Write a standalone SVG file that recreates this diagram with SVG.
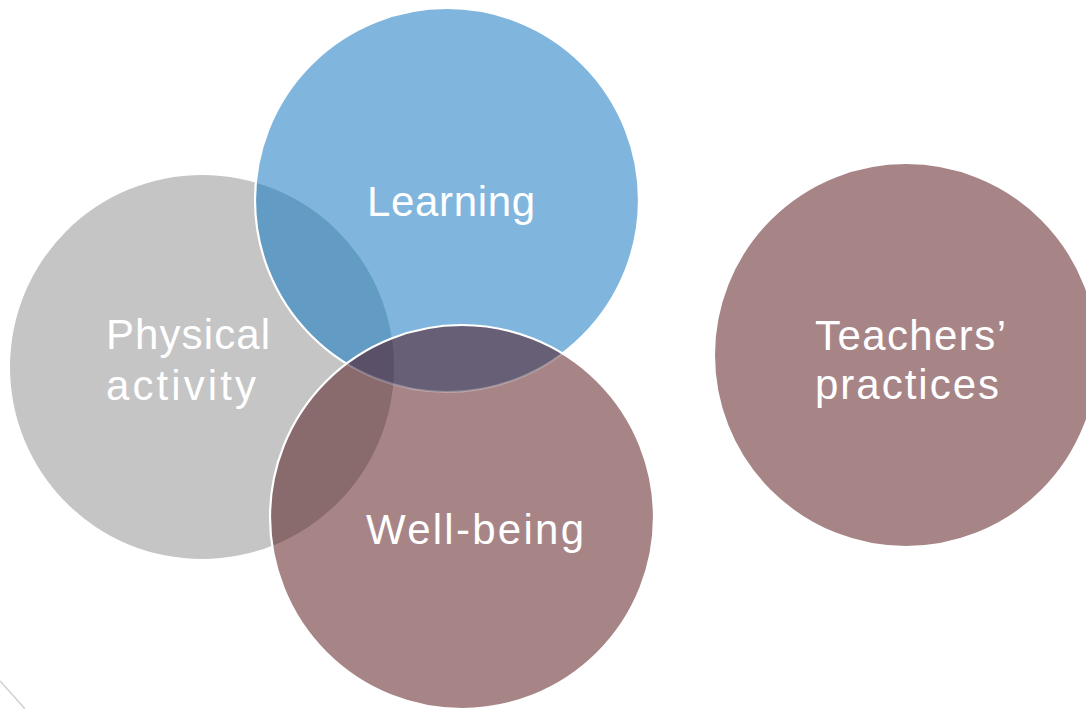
<svg xmlns="http://www.w3.org/2000/svg" width="1086" height="709" viewBox="0 0 1086 709">
  <style>
    .lbl { font-family: "Liberation Sans", Arial, sans-serif; font-size: 42px; fill: #ffffff; }
    .edge { fill: none; stroke: #ffffff; stroke-width: 2.2; }
  </style>
  <defs>
    <clipPath id="inBlue"><circle cx="447" cy="200" r="192"/></clipPath>
    <clipPath id="inGray"><circle cx="202" cy="367" r="192"/></clipPath>
    <clipPath id="inMauve"><circle cx="462" cy="517" r="192"/></clipPath>
  </defs>
  <rect width="1086" height="709" fill="#ffffff"/>

  <!-- faint arc in the lower left corner -->
  <path d="M0,681 Q12,694 25,709" fill="none" stroke="#cfcfcf" stroke-width="1.5"/>

  <g id="node-physical-activity">
    <circle cx="202" cy="367" r="192" fill="#c5c5c5"/>
  </g>

  <g id="node-learning">
    <circle cx="447" cy="200" r="192" fill="#80b6dd"/>
    <!-- blue over grey -->
    <g clip-path="url(#inBlue)">
      <circle cx="202" cy="367" r="192" fill="#629cc4"/>
    </g>
    <circle class="edge" cx="447" cy="200" r="192"/>
  </g>

  <g id="node-well-being">
    <circle cx="462" cy="517" r="192" fill="#a78587"/>
    <!-- mauve over grey -->
    <g clip-path="url(#inMauve)">
      <circle cx="202" cy="367" r="192" fill="#8a6b6d"/>
    </g>
    <!-- mauve over blue -->
    <g clip-path="url(#inMauve)">
      <circle cx="447" cy="200" r="192" fill="#675f76"/>
      <g clip-path="url(#inBlue)">
        <circle cx="202" cy="367" r="192" fill="#5a5168"/>
      </g>
      <circle cx="447" cy="200" r="192" fill="none" stroke="#ffffff" stroke-opacity="0.25" stroke-width="2"/>
    </g>
    <circle class="edge" cx="462" cy="517" r="192"/>
  </g>

  <g id="node-teachers-practices">
    <circle cx="906" cy="355" r="192" fill="#a78587" stroke="#ffffff" stroke-width="2"/>
  </g>

  <g id="labels">
    <text class="lbl" x="367" y="216" textLength="168" lengthAdjust="spacing">Learning</text>
    <text class="lbl" x="106" y="349" textLength="164" lengthAdjust="spacing">Physical</text>
    <text class="lbl" x="106" y="400" textLength="150" lengthAdjust="spacing">activity</text>
    <text class="lbl" x="366" y="544" textLength="218" lengthAdjust="spacing">Well-being</text>
    <text class="lbl" x="815" y="350" textLength="191" lengthAdjust="spacing">Teachers’</text>
    <text class="lbl" x="815" y="399" textLength="184" lengthAdjust="spacing">practices</text>
  </g>
</svg>
